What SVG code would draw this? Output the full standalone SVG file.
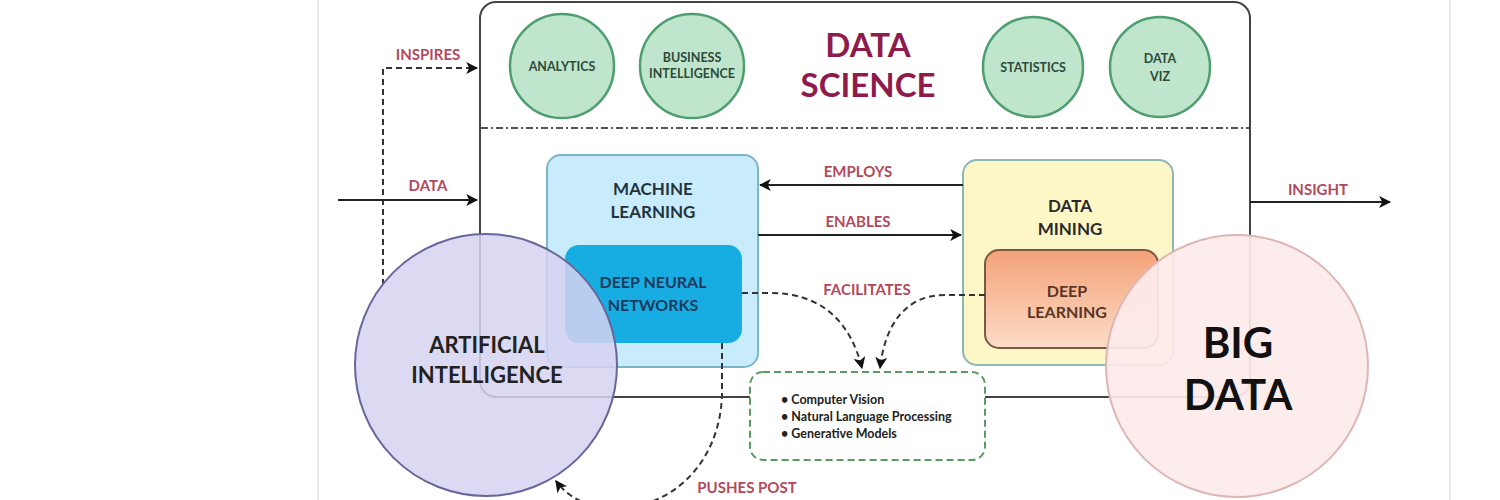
<svg xmlns="http://www.w3.org/2000/svg" width="1500" height="500" viewBox="0 0 1500 500">
<defs>
<marker id="ah" viewBox="0 0 10 10" refX="9" refY="5" markerWidth="12" markerHeight="12" markerUnits="userSpaceOnUse" orient="auto"><path d="M0,0 L10,5 L0,10 L2.5,5 Z" fill="#111"/></marker>
<linearGradient id="dlg" x1="0" y1="0" x2="0" y2="1"><stop offset="0" stop-color="#f4a279"/><stop offset="1" stop-color="#fbdcc6"/></linearGradient>
<style>
text{font-family:Lato,"Open Sans","Liberation Sans",sans-serif;font-weight:700;text-anchor:middle}
.lbl{fill:#b34a5c;font-size:15px}
.green{fill:#bfe6cc;stroke:#4f9e70;stroke-width:2.5}
.gt{fill:#2e4a3b;font-size:12.5px}
.solid{fill:none;stroke:#222;stroke-width:2}
.dash{fill:none;stroke:#333;stroke-width:2;stroke-dasharray:6 4}
.bul{font-size:12.5px;fill:#222;text-anchor:start}
</style>
</defs>
<rect width="1500" height="500" fill="#fff"/>
<line x1="318" y1="0" x2="318" y2="500" stroke="#ececec" stroke-width="2"/>
<line x1="1450" y1="0" x2="1450" y2="500" stroke="#ececec" stroke-width="2"/>

<g id="data-science">
<rect x="480" y="2" width="770" height="395" rx="16" fill="#fff" stroke="#444" stroke-width="2"/>
<line x1="481" y1="128" x2="1249" y2="128" stroke="#555" stroke-width="2" stroke-dasharray="7 3 2 3"/>
<text x="868" y="57" font-size="33" fill="#8e1b4c">DATA</text>
<text x="868" y="97" font-size="33" fill="#8e1b4c">SCIENCE</text>
</g>
<g id="analytics"><circle class="green" cx="562" cy="66" r="52"/><text class="gt" x="562" y="71">ANALYTICS</text></g>
<g id="business-intelligence"><circle class="green" cx="692" cy="66" r="52"/><text class="gt" x="692" y="62">BUSINESS</text><text class="gt" x="692" y="78">INTELLIGENCE</text></g>
<g id="statistics"><circle class="green" cx="1033" cy="67" r="50"/><text class="gt" x="1033" y="72">STATISTICS</text></g>
<g id="data-viz"><circle class="green" cx="1160" cy="67" r="50"/><text class="gt" x="1160" y="63">DATA</text><text class="gt" x="1160" y="81">VIZ</text></g>

<g id="machine-learning">
<rect x="547" y="155" width="211" height="212" rx="14" fill="#c8ecfb" stroke="#7eb4c8" stroke-width="2"/>
<text x="653" y="195" font-size="17" fill="#24323c">MACHINE</text>
<text x="653" y="218" font-size="17" fill="#24323c">LEARNING</text>
</g>
<g id="deep-neural-networks">
<rect x="565" y="245" width="177" height="98" rx="14" fill="#17ace2"/>
<text x="653" y="288" font-size="16" fill="#1d3a5c">DEEP NEURAL</text>
<text x="653" y="311" font-size="16" fill="#1d3a5c">NETWORKS</text>
</g>
<g id="data-mining">
<rect x="963" y="160" width="210" height="205" rx="14" fill="#fdf7c8" stroke="#8cb6b4" stroke-width="2"/>
<text x="1070" y="212" font-size="17" fill="#2a2a2a">DATA</text>
<text x="1070" y="235" font-size="17" fill="#2a2a2a">MINING</text>
</g>
<g id="deep-learning">
<rect x="985" y="250" width="173" height="98" rx="14" fill="url(#dlg)" stroke="#7a5844" stroke-width="2"/>
<text x="1067" y="297" font-size="16" fill="#5a3626">DEEP</text>
<text x="1067" y="318" font-size="16" fill="#5a3626">LEARNING</text>
</g>
<g id="applications">
<rect x="750" y="372" width="235" height="88" rx="13" fill="#fff" stroke="#5b9a62" stroke-width="2" stroke-dasharray="7 4"/>
<text class="bul" x="781" y="404">• Computer Vision</text>
<text class="bul" x="781" y="421">• Natural Language Processing</text>
<text class="bul" x="781" y="438">• Generative Models</text>
</g>

<g id="connectors">
<path class="dash" d="M383,285 L383,68 L477,68" marker-end="url(#ah)"/>
<text class="lbl" x="428" y="60">INSPIRES</text>
<path class="solid" d="M338,200 L477,200" marker-end="url(#ah)"/>
<text class="lbl" x="428" y="191">DATA</text>
<path class="solid" d="M1250,202 L1390,202" marker-end="url(#ah)"/>
<text class="lbl" x="1318" y="195">INSIGHT</text>
<path class="solid" d="M963,185 L760,185" marker-end="url(#ah)"/>
<text class="lbl" x="858" y="177">EMPLOYS</text>
<path class="solid" d="M758,235 L961,235" marker-end="url(#ah)"/>
<text class="lbl" x="858" y="227">ENABLES</text>
<path class="dash" d="M742,293 L770,293 C820,293 850,320 862,368" marker-end="url(#ah)"/>
<path class="dash" d="M985,295 L945,295 C905,295 885,325 880,368" marker-end="url(#ah)"/>
<text class="lbl" x="867" y="295">FACILITATES</text>
<path class="dash" d="M722,343 L722,395 C720,460 675,508 615,508 C585,508 566,495 556,481" marker-end="url(#ah)"/>
<text class="lbl" x="747" y="493">PUSHES POST</text>
</g>

<g id="artificial-intelligence">
<circle cx="486" cy="365" r="131" fill="#d6d2f1" fill-opacity="0.85" stroke="#67669a" stroke-width="2"/>
<text x="487" y="353" font-size="22" fill="#222">ARTIFICIAL</text>
<text x="487" y="383" font-size="22" fill="#222">INTELLIGENCE</text>
</g>
<g id="big-data">
<circle cx="1237" cy="366" r="131" fill="#fdeaea" fill-opacity="0.92" stroke="#dfb6b6" stroke-width="2"/>
<text x="1238" y="358" font-size="42" font-weight="600" fill="#111">BIG</text>
<text x="1238" y="410" font-size="42" font-weight="600" fill="#111">DATA</text>
</g>
</svg>
